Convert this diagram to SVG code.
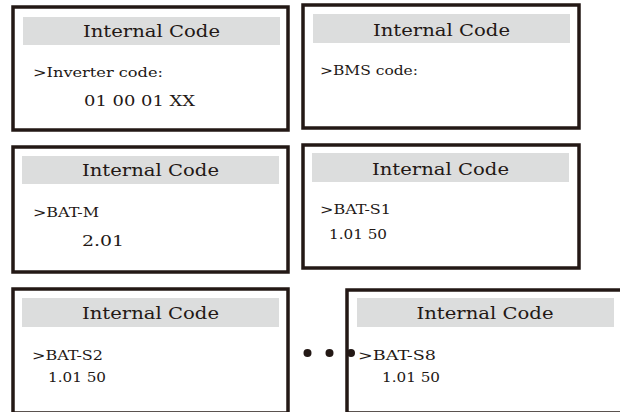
<svg xmlns="http://www.w3.org/2000/svg" width="620" height="412" viewBox="0 0 620 412">
<style>
.frame{fill:#ffffff;stroke:#231815;stroke-width:3.5}
.hdr{fill:#dcdddd}
.title{font-family:"DejaVu Serif","Liberation Serif",serif;font-size:17px;fill:#231815;text-anchor:middle}
.body{font-family:"DejaVu Serif","Liberation Serif",serif;font-size:13px;fill:#231815}
.val{font-family:"DejaVu Serif","Liberation Serif",serif;font-size:14px;fill:#231815}
.dot{fill:#231815}
</style>
<rect width="620" height="412" fill="#ffffff"/>
<g id="screen-inverter">
<rect class="frame" x="13" y="7" width="275" height="123"/>
<rect class="hdr" x="23" y="17" width="257" height="28"/>
<text class="title" x="151.5" y="37" textLength="137" lengthAdjust="spacingAndGlyphs">Internal Code</text>
<text class="body" x="33" y="77" textLength="130" lengthAdjust="spacingAndGlyphs">&gt;Inverter code:</text>
<text class="val" x="84" y="106" textLength="111" lengthAdjust="spacingAndGlyphs">01 00 01 XX</text>
</g>
<g id="screen-bms">
<rect class="frame" x="303" y="5" width="276" height="123"/>
<rect class="hdr" x="313" y="14" width="257" height="29"/>
<text class="title" x="441.5" y="36" textLength="137" lengthAdjust="spacingAndGlyphs">Internal Code</text>
<text class="body" x="320" y="75" textLength="98" lengthAdjust="spacingAndGlyphs">&gt;BMS code:</text>
</g>
<g id="screen-bat-m">
<rect class="frame" x="13" y="147" width="275" height="125"/>
<rect class="hdr" x="22" y="156" width="257" height="28"/>
<text class="title" x="150.5" y="176" textLength="137" lengthAdjust="spacingAndGlyphs">Internal Code</text>
<text class="body" x="33" y="217" textLength="66" lengthAdjust="spacingAndGlyphs">&gt;BAT-M</text>
<text class="val" x="82" y="246" textLength="42" lengthAdjust="spacingAndGlyphs">2.01</text>
</g>
<g id="screen-bat-s1">
<rect class="frame" x="303" y="145" width="276" height="123"/>
<rect class="hdr" x="312" y="153" width="257" height="29"/>
<text class="title" x="440.5" y="175" textLength="137" lengthAdjust="spacingAndGlyphs">Internal Code</text>
<text class="body" x="320" y="214" textLength="71" lengthAdjust="spacingAndGlyphs">&gt;BAT-S1</text>
<text class="body" x="329" y="239" textLength="58" lengthAdjust="spacingAndGlyphs">1.01 50</text>
</g>
<g id="screen-bat-s2">
<rect class="frame" x="13" y="289" width="275" height="124"/>
<rect class="hdr" x="22" y="298" width="257" height="29"/>
<text class="title" x="150.5" y="319" textLength="137" lengthAdjust="spacingAndGlyphs">Internal Code</text>
<text class="body" x="32" y="360" textLength="71" lengthAdjust="spacingAndGlyphs">&gt;BAT-S2</text>
<text class="body" x="48" y="382" textLength="58" lengthAdjust="spacingAndGlyphs">1.01 50</text>
</g>
<g id="screen-bat-s8">
<rect class="frame" x="347" y="290" width="276" height="123"/>
<rect class="hdr" x="357" y="298" width="257" height="29"/>
<text class="title" x="485" y="319" textLength="137" lengthAdjust="spacingAndGlyphs">Internal Code</text>
<text class="body" x="358" y="360" textLength="78" lengthAdjust="spacingAndGlyphs">&gt;BAT-S8</text>
<text class="body" x="382" y="382" textLength="58" lengthAdjust="spacingAndGlyphs">1.01 50</text>
</g>
<g id="ellipsis">
<circle class="dot" cx="307.5" cy="353" r="4"/>
<circle class="dot" cx="329.5" cy="353" r="4"/>
<circle class="dot" cx="351" cy="353" r="4"/>
</g>
</svg>
